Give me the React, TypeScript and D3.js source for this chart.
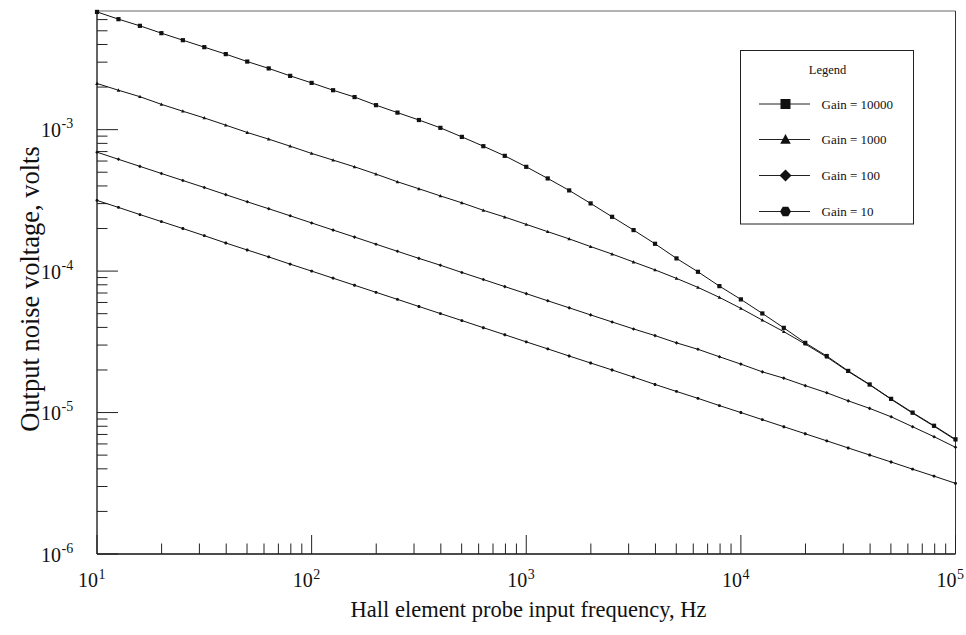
import React from "react";
import * as d3 from "d3";

const freqs = [
  10, 12.59, 15.85, 19.95, 25.12, 31.62, 39.81, 50.12, 63.1, 79.43,
  100, 125.9, 158.5, 199.5, 251.2, 316.2, 398.1, 501.2, 631.0, 794.3,
  1000, 1259, 1585, 1995, 2512, 3162, 3981, 5012, 6310, 7943,
  10000, 12589, 15849, 19953, 25119, 31623, 39811, 50119, 63096, 79433,
  100000,
];

const gain10000 = [
  6.8e-3, 6.04e-3, 5.42e-3, 4.81e-3, 4.29e-3, 3.83e-3, 3.42e-3, 3.03e-3, 2.71e-3, 2.4e-3,
  2.14e-3, 1.9e-3, 1.7e-3, 1.49e-3, 1.32e-3, 1.17e-3, 1.03e-3, 8.89e-4, 7.64e-4, 6.53e-4,
  5.46e-4, 4.52e-4, 3.72e-4, 3.01e-4, 2.42e-4, 1.95e-4, 1.56e-4, 1.23e-4, 9.89e-5, 7.83e-5,
  6.31e-5, 5.02e-5, 3.97e-5, 3.11e-5, 2.51e-5, 1.97e-5, 1.58e-5, 1.25e-5, 1.0e-5, 8.07e-6,
  6.47e-6,
];

const gain1000 = [
  2.12e-3, 1.9e-3, 1.71e-3, 1.51e-3, 1.35e-3, 1.21e-3, 1.076e-3, 9.55e-4, 8.57e-4, 7.64e-4,
  6.79e-4, 6.09e-4, 5.46e-4, 4.85e-4, 4.28e-4, 3.82e-4, 3.4e-4, 3.04e-4, 2.69e-4, 2.41e-4,
  2.14e-4, 1.9e-4, 1.69e-4, 1.49e-4, 1.32e-4, 1.16e-4, 1.02e-4, 8.88e-5, 7.67e-5, 6.52e-5,
  5.45e-5, 4.5e-5, 3.73e-5, 3.05e-5, 2.47e-5, 1.95e-5, 1.57e-5, 1.24e-5, 9.9e-6, 8.0e-6,
  6.4e-6,
];

const gain100 = [
  6.93e-4, 6.17e-4, 5.5e-4, 4.9e-4, 4.37e-4, 3.9e-4, 3.47e-4, 3.09e-4, 2.76e-4, 2.46e-4,
  2.19e-4, 1.95e-4, 1.74e-4, 1.55e-4, 1.38e-4, 1.23e-4, 1.1e-4, 9.78e-5, 8.72e-5, 7.77e-5,
  6.93e-5, 6.17e-5, 5.5e-5, 4.9e-5, 4.37e-5, 3.9e-5, 3.5e-5, 3.11e-5, 2.8e-5, 2.48e-5,
  2.2e-5, 1.94e-5, 1.75e-5, 1.55e-5, 1.38e-5, 1.21e-5, 1.07e-5, 9.33e-6, 7.94e-6, 6.75e-6,
  5.68e-6,
];

const gain10 = [
  3.16e-4, 2.82e-4, 2.51e-4, 2.24e-4, 2.0e-4, 1.78e-4, 1.58e-4, 1.41e-4, 1.26e-4, 1.12e-4,
  1.0e-4, 8.91e-5, 7.94e-5, 7.08e-5, 6.31e-5, 5.62e-5, 5.01e-5, 4.47e-5, 3.98e-5, 3.55e-5,
  3.16e-5, 2.82e-5, 2.51e-5, 2.24e-5, 2.0e-5, 1.78e-5, 1.58e-5, 1.41e-5, 1.26e-5, 1.12e-5,
  1.0e-5, 8.91e-6, 7.94e-6, 7.08e-6, 6.31e-6, 5.62e-6, 5.01e-6, 4.47e-6, 3.98e-6, 3.55e-6,
  3.16e-6,
];

const seriesNames = ["Gain = 10000", "Gain = 1000", "Gain = 100", "Gain = 10"];
const seriesShapes = ["square", "triangle", "diamond", "hexagon"];
const xTickExps = [1, 2, 3, 4, 5];
const yTickExps = [-6, -5, -4, -3];

const W = 966;
const H = 635;
const left = 97;
const right = 955.5;
const top = 11;
const bottom = 554;
const FONT = "'Liberation Serif', 'Times New Roman', serif";

function shapePath(shape: string, r: number): string {
  if (shape === "square") {
    return `M${-r},${-r}H${r}V${r}H${-r}Z`;
  }
  if (shape === "triangle") {
    const h = r * 1.1;
    return `M0,${-h}L${r * 1.05},${h * 0.75}L${-r * 1.05},${h * 0.75}Z`;
  }
  if (shape === "diamond") {
    const d = r * 1.2;
    return `M0,${-d}L${d},0L0,${d}L${-d},0Z`;
  }
  const pts = d3.range(6).map((i) => {
    const a = (Math.PI / 3) * i;
    return [Math.cos(a) * r * 1.1, Math.sin(a) * r * 1.1];
  });
  return "M" + pts.map((p) => p.join(",")).join("L") + "Z";
}

export default function App() {
  const x = d3.scaleLog().domain([10, 1e5]).range([left, right]);
  const y = d3.scaleLog().domain([1e-6, 6.9e-3]).range([bottom, top]);
  const allSeries = [gain10000, gain1000, gain100, gain10];
  const markerR = [2.1, 1.7, 1.5, 1.5];

  const line = d3
    .line<number>()
    .x((_, i) => x(freqs[i]))
    .y((v) => y(v));

  const isPow10 = (v: number) =>
    Math.abs(Math.log10(v) - Math.round(Math.log10(v))) < 1e-6;

  const xTicks = x.ticks();
  const yTicks = y.ticks().filter((v) => v <= 6.9e-3);

  const legX = 740.5;
  const legY = 50.5;
  const legW = 173;
  const legH = 173.5;
  const entryY = [104, 139.5, 175.5, 211.5];

  return (
    <svg
      width={W}
      height={H}
      style={{ position: "absolute", left: 0, top: 0, background: "#fff" }}
      fontFamily={FONT}
    >
      <rect x={0} y={0} width={W} height={H} fill="#fff" />
      {/* frame */}
      <line x1={left} y1={top} x2={right} y2={top} stroke="#666" strokeWidth={1.2} />
      <line x1={right} y1={top} x2={right} y2={bottom} stroke="#333" strokeWidth={1} />
      <line x1={left} y1={top} x2={left} y2={bottom} stroke="#111" strokeWidth={1.3} />
      <line x1={left} y1={bottom} x2={right} y2={bottom} stroke="#111" strokeWidth={1.3} />

      {/* x ticks */}
      {xTicks.map((t, i) => {
        const major = isPow10(t);
        return (
          <line
            key={"xt" + i}
            x1={x(t)}
            x2={x(t)}
            y1={bottom}
            y2={bottom - (major ? 19 : 10.5)}
            stroke="#222"
            strokeWidth={1}
          />
        );
      })}
      {/* y ticks */}
      {yTicks.map((t, i) => {
        const major = isPow10(t);
        return (
          <line
            key={"yt" + i}
            x1={left}
            x2={left + (major ? 21 : 10.5)}
            y1={y(t)}
            y2={y(t)}
            stroke="#222"
            strokeWidth={1}
          />
        );
      })}

      {/* x tick labels */}
      {xTickExps.map((e) => {
        const tx = x(Math.pow(10, e));
        return (
          <g key={"xl" + e}>
            <text x={tx + 1} y={587} fontSize={20} textAnchor="end" fill="#111">
              10
            </text>
            <text x={tx + 1.5} y={578.5} fontSize={14} fill="#111">
              {e}
            </text>
          </g>
        );
      })}
      {/* y tick labels */}
      {yTickExps.map((e) => {
        const ty = y(Math.pow(10, e));
        return (
          <g key={"yl" + e}>
            <text x={61} y={ty + 7.5} fontSize={20} textAnchor="end" fill="#111">
              10
            </text>
            <text x={61.5} y={ty - 1.5} fontSize={14} fill="#111">
              {"-" + Math.abs(e)}
            </text>
          </g>
        );
      })}

      {/* axis titles */}
      <text x={528.5} y={617} fontSize={22.5} textAnchor="middle" fill="#111">
        Hall element probe input frequency, Hz
      </text>
      <text
        transform={`translate(39,289) rotate(-90)`}
        fontSize={26.5}
        textAnchor="middle"
        fill="#111"
      >
        Output noise voltage, volts
      </text>

      {/* curves */}
      {allSeries.map((s, si) => (
        <g key={"s" + si}>
          <path d={line(s) || ""} fill="none" stroke="#111" strokeWidth={1} />
          {s.map((v, i) => (
            <path
              key={i}
              d={shapePath(seriesShapes[si], markerR[si])}
              transform={`translate(${x(freqs[i])},${y(v)})`}
              fill="#111"
            />
          ))}
        </g>
      ))}

      {/* legend */}
      <rect x={legX} y={legY} width={legW} height={legH} fill="#fff" stroke="#222" strokeWidth={1} />
      <text x={827.5} y={74} fontSize={12.5} textAnchor="middle" fill="#111">
        Legend
      </text>
      {seriesNames.map((n, i) => (
        <g key={"lg" + i}>
          <line x1={759} x2={810} y1={entryY[i]} y2={entryY[i]} stroke="#222" strokeWidth={1} />
          <path
            d={shapePath(seriesShapes[i], 5)}
            transform={`translate(785.5,${entryY[i]})`}
            fill="#111"
          />
          <text x={821.5} y={entryY[i] + 4.5} fontSize={13} fill="#111">
            {n}
          </text>
        </g>
      ))}
    </svg>
  );
}
